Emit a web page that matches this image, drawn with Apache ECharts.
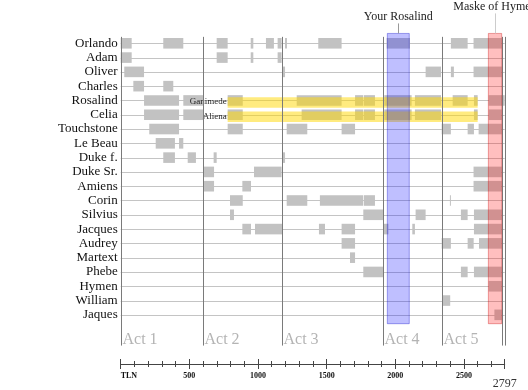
<!DOCTYPE html>
<html><head><meta charset="utf-8">
<script src="https://cdn.jsdelivr.net/npm/echarts@6/dist/echarts.min.js"></script>
<style>html,body{margin:0;padding:0;background:#fff}#c{width:528px;height:390px}</style>
</head><body><div id="c"></div>
<script>
// ---------- DATA ----------
const characters = ['Orlando','Adam','Oliver','Charles','Rosalind','Celia','Touchstone','Le Beau','Duke f.','Duke Sr.','Amiens','Corin','Silvius','Jacques','Audrey','Martext','Phebe','Hymen','William','Jaques'];
const orlando   = [[0,80],[310,456],[699,779],[947,966],[1058,1116],[1143,1172],[1197,1211],[1439,1609],[1937,2107],[2405,2527],[2570,2775]];
const adam      = [[0,80],[699,779],[947,966],[1143,1172]];
const oliver    = [[26,170],[1180,1197],[2221,2333],[2405,2427],[2570,2775]];
const charles   = [[92,170],[310,383]];
const rosalind  = [[170,425],[456,602],[779,889],[1282,1609],[1707,1767],[1772,1852],[1920,2119],[2143,2333],[2418,2527],[2573,2600],[2680,2797]];
const celia     = [[170,425],[456,602],[779,889],[1318,1609],[1707,1767],[1772,1852],[1920,2119],[2143,2333],[2573,2600],[2680,2775]];
const touchstone= [[208,425],[779,889],[1209,1359],[1609,1707],[2338,2405],[2527,2573],[2607,2775]];
const lebeau    = [[255,395],[425,456]];
const dukeF     = [[310,395],[488,548],[677,699],[1180,1197]];
const dukeSr    = [[607,680],[971,1172],[2570,2775]];
const amiens    = [[607,680],[886,949],[2570,2775]];
const corin     = [[796,889],[1209,1359],[1451,1767],[1772,1852],[2398,2405]];
const silvius   = [[796,825],[1767,1913],[2148,2221],[2478,2527],[2573,2775]];
const jacques   = [[886,949],[978,1177],[1444,1488],[1609,1707],[1913,1950],[2124,2143],[2573,2775]];
const audrey    = [[1609,1707],[2338,2405],[2527,2571],[2610,2775]];
const martext   = [[1670,1707]];
const phebe     = [[1767,1913],[2478,2527],[2573,2775]];
const hymen     = [[2680,2775]];
const william   = [[2347,2400]];
const jaques    = [[2722,2775]];
const presence  = [orlando,adam,oliver,charles,rosalind,celia,touchstone,lebeau,dukeF,dukeSr,amiens,corin,silvius,jacques,audrey,martext,phebe,hymen,william,jaques];

const actNames  = ['Act 1','Act 2','Act 3','Act 4','Act 5'];
const actStarts = [0, 602, 1177, 1913, 2338];
const epilogueLines = [2778, 2797];

const aliasNames = ['Ganimede','Aliena'];
const aliasRows  = ['Rosalind','Celia'];
const aliasStart = 779, aliasEnd = 2600;

const bandNames  = ['Your Rosalind','Maske of Hymen'];
const bandStarts = [1942, 2678];
const bandEnds   = [2102, 2775];

const tlnMax = 2797;
const majorTicks = [500,1000,1500,2000,2500];

// ---------- BUILD ----------
const barData = [];
presence.forEach((segs, r) => segs.forEach(s => barData.push([r, s[0], s[1]])));
const rowData = characters.map((c, i) => [i]);
const actData = actStarts.map((s, i) => [s, i]).concat(epilogueLines.map(s => [s, -1]));
const aliasData = aliasRows.map((r, i) => [characters.indexOf(r), aliasStart, aliasEnd, i]);
const bandData = bandNames.map((n, i) => [bandStarts[i], bandEnds[i], i]);

const SERIF = "'Liberation Serif', 'DejaVu Serif', serif";
const BAND_TOP = -0.69, BAND_BOT = 19.62;
const ACT_TOP = -0.45, ACT_BOT = 21.15, ACT_LABEL = 20.73;
const bandColors = ['rgba(0,0,255,0.25)', 'rgba(255,0,0,0.25)'];
const bandStroke = ['rgba(0,0,200,0.35)', 'rgba(200,0,0,0.35)'];

const chart = echarts.init(document.getElementById('c'), null, {renderer: 'canvas'});

function xAxisBase(extra) {
  return Object.assign({
    type: 'value', min: 0, max: tlnMax, position: 'bottom', gridIndex: 0,
    splitLine: {show: false}, axisLine: {show: false, onZero: false}, axisLabel: {show: false},
    axisTick: {show: true, length: 3, lineStyle: {color: '#444', width: 1}}
  }, extra);
}

chart.setOption({
  animation: false,
  backgroundColor: '#fff',
  grid: {left: 120.7, right: 23.3, top: 14.7, bottom: 23.3, containLabel: false},
  xAxis: [
    xAxisBase({interval: 100,
      axisLine: {show: true, onZero: false, lineStyle: {color: '#444', width: 1}},
      axisLabel: {show: true, margin: 8, fontFamily: SERIF, fontSize: 8, color: '#111',
        alignMinLabel: 'left', showMaxLabel: true,
        formatter: v => v === 0 ? '{s|TLN}' : (v === tlnMax ? '{big|' + tlnMax + '}' : (majorTicks.indexOf(v) >= 0 ? '{s|' + v + '}' : '')),
        rich: {
          s: {fontSize: 8, fontFamily: SERIF, color: '#111', fontWeight: 'bold'},
          big: {fontSize: 12, fontFamily: SERIF, color: '#333', padding: [6, 0, 0, 0]}
        }
      }}),
    xAxisBase({interval: 100, axisTick: {show: true, inside: true, length: 3, lineStyle: {color: '#444'}}}),
    xAxisBase({interval: 500, axisTick: {show: true, length: 5, lineStyle: {color: '#444'}}}),
    xAxisBase({interval: 500, axisTick: {show: true, inside: true, length: 5, lineStyle: {color: '#444'}}})
  ],
  yAxis: {
    type: 'value', inverse: true, min: -2, max: 22.44, interval: 1,
    axisLine: {show: false, onZero: false}, axisTick: {show: false}, splitLine: {show: false},
    axisLabel: {margin: 3, fontFamily: SERIF, fontSize: 13, color: '#111',
      formatter: v => (Number.isInteger(v) && characters[v]) ? characters[v] : ''}
  },
  series: [
    { // row guide lines
      type: 'custom', data: rowData, encode: {y: 0}, clip: false, z: 1,
      renderItem: (p, api) => {
        const r = api.value(0);
        const a = api.coord([0, r]), b = api.coord([tlnMax, r]);
        return {type: 'line', shape: {x1: a[0], y1: Math.round(a[1]) + 0.5, x2: b[0], y2: Math.round(a[1]) + 0.5},
          style: {stroke: '#c4c4c4', lineWidth: 1}};
      }
    },
    { // presence bars
      type: 'custom', data: barData, encode: {x: [1, 2], y: 0}, clip: false, z: 2,
      renderItem: (p, api) => {
        const a = api.coord([api.value(1), api.value(0)]);
        const b = api.coord([api.value(2), api.value(0)]);
        return {type: 'rect', shape: {x: a[0], y: a[1] - 5.3, width: Math.max(b[0] - a[0], 1), height: 10.6},
          style: {fill: '#c2c2c2'}};
      }
    },
    { // disguise highlights
      type: 'custom', data: aliasData, encode: {x: [1, 2], y: 0}, clip: false, z: 3,
      renderItem: (p, api) => {
        const a = api.coord([api.value(1), api.value(0)]);
        const b = api.coord([api.value(2), api.value(0)]);
        const i = api.value(3);
        return {type: 'group', children: [
          {type: 'rect', shape: {x: a[0], y: a[1] - 3.3, width: b[0] - a[0], height: 10.6},
            style: {fill: 'rgba(255,215,0,0.5)'}},
          {type: 'text', style: {x: a[0] - 1, y: a[1] + 1.5, text: aliasNames[i], align: 'right', verticalAlign: 'middle',
            fontFamily: SERIF, fontSize: 9, fill: '#222'}}
        ]};
      }
    },
    { // act lines
      type: 'custom', data: actData, encode: {x: 0}, clip: false, z: 4,
      renderItem: (p, api) => {
        const x = api.value(0), i = api.value(1);
        const a = api.coord([x, ACT_TOP]), b = api.coord([x, ACT_BOT]);
        const xx = Math.round(a[0]) + 0.5;
        const children = [{type: 'line', shape: {x1: xx, y1: a[1], x2: xx, y2: b[1]}, style: {stroke: '#7a7a7a', lineWidth: 1}}];
        if (i >= 0) {
          const c = api.coord([x, ACT_LABEL]);
          children.push({type: 'text', style: {x: xx + 1, y: c[1], text: actNames[i], align: 'left', verticalAlign: 'middle',
            fontFamily: SERIF, fontSize: 16, fill: '#b4b4b4'}});
        }
        return {type: 'group', children};
      }
    },
    { // highlighted passages
      type: 'custom', data: bandData, encode: {x: [0, 1]}, clip: false, z: 5,
      renderItem: (p, api) => {
        const i = api.value(2);
        const a = api.coord([api.value(0), BAND_TOP]);
        const b = api.coord([api.value(1), BAND_BOT]);
        const cx = (a[0] + b[0]) / 2;
        const labelY = i === 0 ? a[1] - 17 : a[1] - 27;
        return {type: 'group', children: [
          {type: 'rect', shape: {x: a[0], y: a[1], width: b[0] - a[0], height: b[1] - a[1]},
            style: {fill: bandColors[i], stroke: bandStroke[i], lineWidth: 1}},
          {type: 'line', shape: {x1: Math.round(cx) + 0.5, y1: labelY + 7, x2: Math.round(cx) + 0.5, y2: a[1]},
            style: {stroke: i === 0 ? '#999' : '#ccc', lineWidth: 1}},
          {type: 'text', style: {x: cx, y: labelY, text: bandNames[i], align: 'center', verticalAlign: 'middle',
            fontFamily: SERIF, fontSize: 12, fill: '#222'}}
        ]};
      }
    }
  ]
});
</script></body></html>
